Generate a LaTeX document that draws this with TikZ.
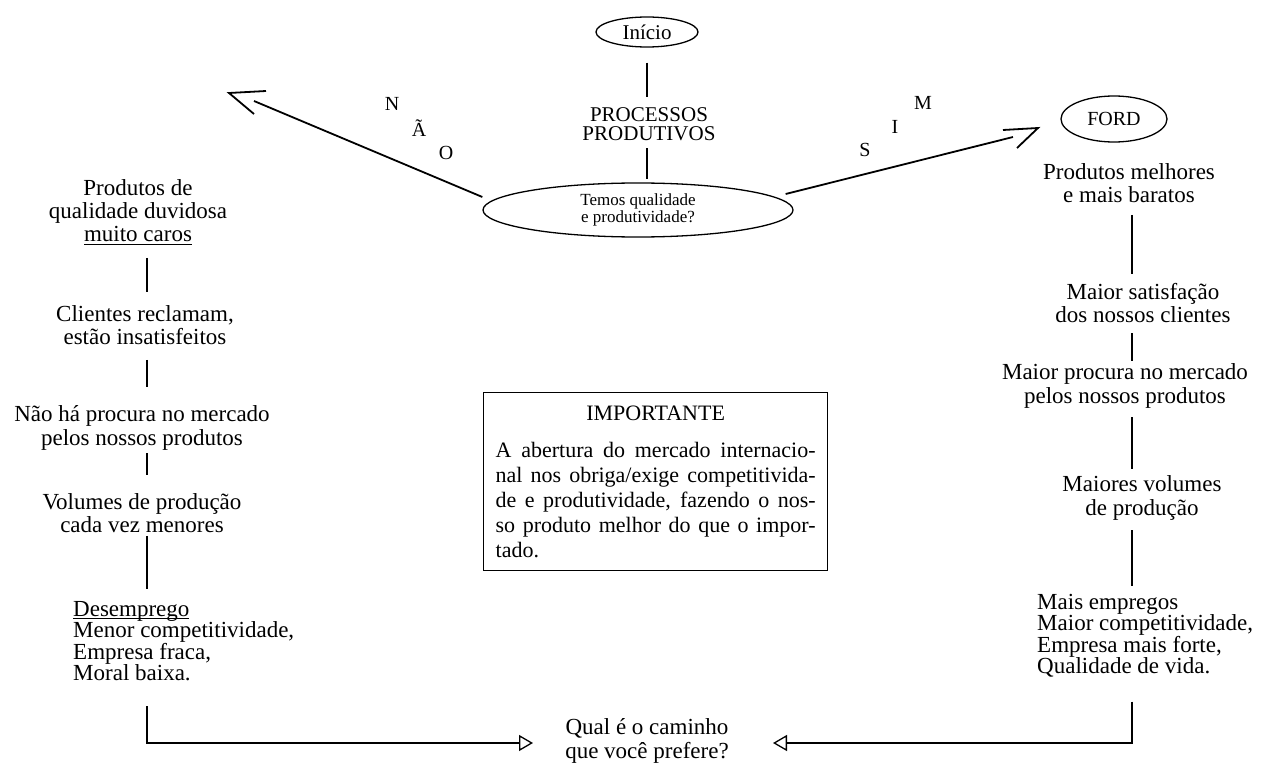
\documentclass[tikz,border=0pt]{standalone}
\usepackage{fontspec}
\setmainfont{Liberation Serif}
\usetikzlibrary{shapes.geometric,arrows.meta}
\newcommand{\myul}[1]{\setbox0\hbox{#1}\rlap{\rule[-3pt]{\wd0}{0.9pt}}\box0}
\newcommand{\tightlines}{\lineskiplimit=-20pt\relax\lineskip=0pt\relax}
\begin{document}
\begin{tikzpicture}[x=1pt,y=-1pt,
  txt/.style={inner sep=0pt, align=center, font=\fontsize{23}{23.3}\selectfont},
  blk/.style={inner sep=0pt, align=left, anchor=west},
  oval/.style={ellipse, draw, line width=1.3pt, inner sep=0pt},
  conn/.style={line width=1.8pt},
  lbl/.style={inner sep=0pt, font=\fontsize{20}{20}\selectfont},
  qarrow/.style={line width=1.8pt, -{Triangle[open, length=14pt, width=16pt, line width=1.3pt]}},
]
\useasboundingbox (0,0) rectangle (1267,765);

% top
\node[oval, minimum width=102pt, minimum height=30pt, font=\fontsize{21}{21}\selectfont] (inicio) at (647,32) {Início};
\node[txt, font=\fontsize{21}{19}\selectfont] (proc) at (649,124.5) {PROCESSOS\\PRODUTIVOS};
\node[oval, minimum width=310pt, minimum height=54pt, align=center, font=\fontsize{17}{17.5}\selectfont] (q) at (638,210) {Temos qualidade\\e produtividade?};
\node[oval, minimum width=106pt, minimum height=46pt, font=\fontsize{20}{20}\selectfont] (ford) at (1114,119) {FORD};

\draw[conn, shorten <=15pt, shorten >=11pt] (inicio.south) -- (proc.north -| inicio.south);
\draw[conn, shorten <=7pt, shorten >=3pt] (proc.south -| inicio.south) -- (q.north -| inicio.south);

% NAO / SIM letters
\node[lbl] (ln) at (392,104) {N};
\node[lbl] (la) at (419,128) {Ã};
\node[lbl] (lo) at (446,153) {O};
\node[lbl] (ls) at (865,150) {S};
\node[lbl] (li) at (895,127) {I};
\node[lbl] (lm) at (923,103) {M};

% NAO arrow
\coordinate (naoB) at (254,101);
\coordinate (naoT) at (229,93);
\coordinate (naoU) at (266,91);
\coordinate (naoL) at (254,114);
\draw[conn] ([yshift=13pt]q.west) -- (naoB);
\draw[conn, line join=miter] (naoU) -- (naoT) -- (naoL);

% SIM arrow
\coordinate (simB) at (1013,137);
\coordinate (simT) at (1038,128);
\coordinate (simU) at (1003,130);
\coordinate (simL) at (1017,148);
\draw[conn] ([xshift=-8pt,yshift=16pt]q.east) -- (simB);
\draw[conn, line join=miter] (simU) -- (simT) -- (simL);

% column axes
\coordinate (lc) at (147,0);
\coordinate (rc) at (1132,0);

% left column
\node[txt] (l1) at (138,212) {Produtos de\\qualidade duvidosa\\\myul{muito caros}};
\node[txt] (l2) at (145,325) {Clientes reclamam,\\estão insatisfeitos};
\node[txt] (l3) at (142,428) {Não há procura no mercado\\pelos nossos produtos};
\node[txt] (l4) at (142,513) {Volumes de produção\\cada vez menores};
\node[blk, font=\fontsize{23}{21.5}\selectfont\tightlines] (l5) at (73,641) {\myul{Desemprego}\\Menor competitividade,\\Empresa fraca,\\Moral baixa.};

\draw[conn, shorten <=13pt, shorten >=13pt] (l1.south -| lc) -- (l2.north -| lc);
\draw[conn, shorten <=15pt, shorten >=19pt] (l2.south -| lc) -- (l3.north -| lc);
\draw[conn, shorten <=3pt, shorten >=18pt] (l3.south -| lc) -- (l4.north -| lc);
\draw[conn, shorten <=3pt, shorten >=12pt] (l4.south -| lc) -- (l5.north -| lc);

% right column
\node[txt] (r1) at (1129,183) {Produtos melhores\\e mais baratos};
\node[txt] (r2) at (1143,303) {Maior satisfação\\dos nossos clientes};
\node[txt] (r3) at (1125,386) {Maior procura no mercado\\pelos nossos produtos};
\node[txt] (r4) at (1142,498) {Maiores volumes\\de produção};
\node[blk, font=\fontsize{23}{21}\selectfont] (r5) at (1037,636) {Mais empregos\\Maior competitividade,\\Empresa mais forte,\\Qualidade de vida.};

\draw[conn, shorten <=12pt, shorten >=9pt] (r1.south -| rc) -- (r2.north -| rc);
\draw[conn, shorten <=10pt, shorten >=3pt] (r2.south -| rc) -- (r3.north -| rc);
\draw[conn, shorten <=9pt, shorten >=7pt] (r3.south -| rc) -- (r4.north -| rc);
\draw[conn, shorten <=10pt, shorten >=8pt] (r4.south -| rc) -- (r5.north -| rc);

% important box
\node[draw, line width=1.3pt, anchor=north west, inner xsep=12pt, inner ysep=13pt, align=left, font=\fontsize{22}{25}\selectfont] (imp) at (483,392)
{\makebox[320pt]{IMPORTANTE}\\[12pt]
\makebox[320pt][s]{A abertura do mercado internacio-}\\
\makebox[320pt][s]{nal nos obriga/exige competitivida-}\\
\makebox[320pt][s]{de e produtividade, fazendo o nos-}\\
\makebox[320pt][s]{so produto melhor do que o impor-}\\
tado.};

% bottom question
\node[txt] (qq) at (647,741) {Qual é o caminho\\que você prefere?};
\coordinate (qL) at (533,743);
\coordinate (qR) at (773,743);
\draw[qarrow, shorten <=25pt] (l5.south -| lc) |- (qL);
\draw[qarrow, shorten <=24pt] (r5.south -| rc) |- (qR);
\end{tikzpicture}
\end{document}
